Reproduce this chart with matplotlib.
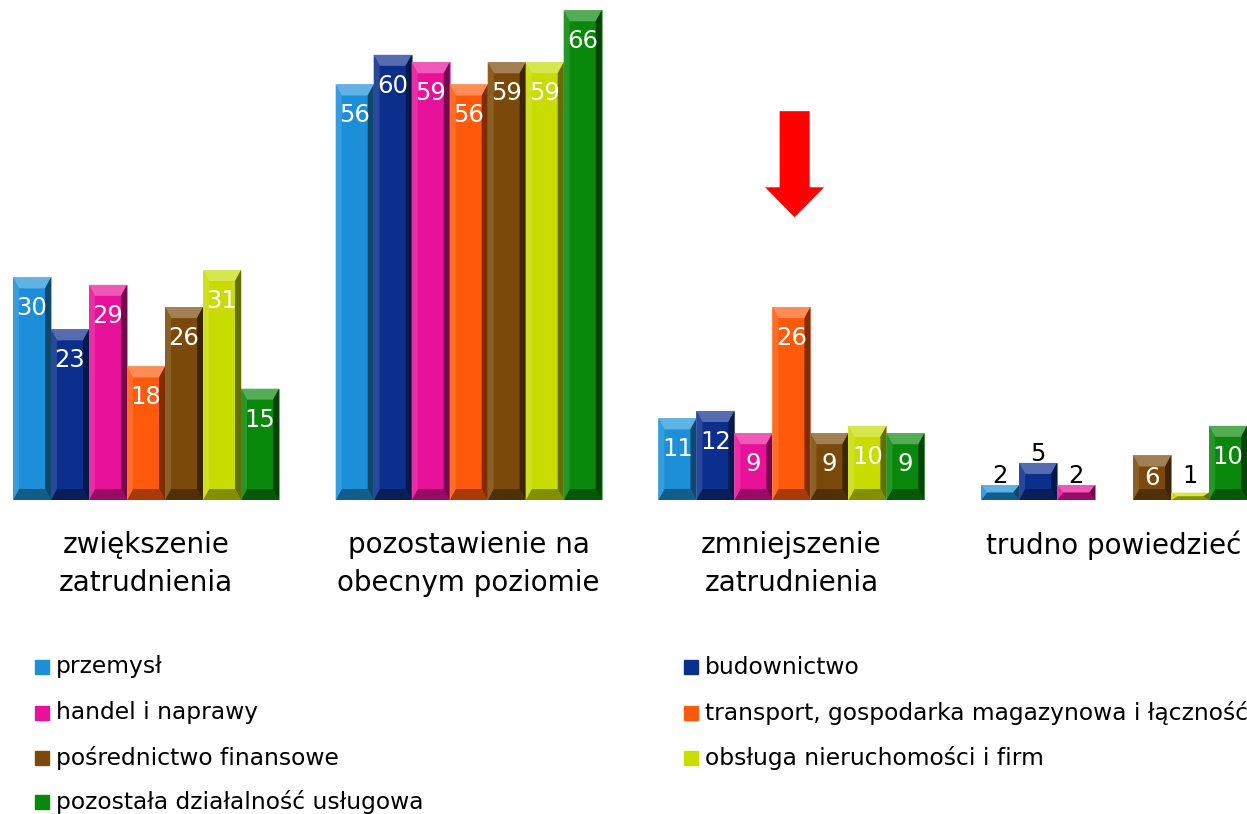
import numpy as np
import matplotlib.pyplot as plt
from matplotlib.patches import Polygon, Rectangle
from matplotlib.colors import to_rgb

# dane z wykresu
grupy = ['zwiększenie\nzatrudnienia', 'pozostawienie na\nobecnym poziomie',
         'zmniejszenie\nzatrudnienia', 'trudno powiedzieć']
branze = ['przemysł', 'budownictwo', 'handel i naprawy',
          'transport, gospodarka magazynowa i łączność',
          'pośrednictwo finansowe', 'obsługa nieruchomości i firm',
          'pozostała działalność usługowa']
przemysl = [30, 56, 11, 2]
budownictwo = [23, 60, 12, 5]
handel = [29, 59, 9, 2]
transport = [18, 56, 26, 0]
finanse = [26, 59, 9, 6]
obsluga = [31, 59, 10, 1]
pozostala = [15, 66, 9, 10]
serie = [przemysl, budownictwo, handel, transport, finanse, obsluga, pozostala]
kolory = ['#1C8FD8', '#0C2F8E', '#E8129A', '#FF5A0C', '#7B4A0A', '#C8DC02', '#0A880C']

W, H = 1247, 814
fig = plt.figure(figsize=(W / 100, H / 100), dpi=100)
base_px = 500  # linia bazowa od gory
ax = fig.add_axes([0, (H - base_px) / H, 1, base_px / H])
ax.set_xlim(-146 / 322.7, (W - 146) / 322.7)
ax.set_ylim(0, base_px / 7.42)
ax.axis('off')

px_x = (ax.get_xlim()[1] - ax.get_xlim()[0]) / W
px_y = (ax.get_ylim()[1] - ax.get_ylim()[0]) / base_px
bw = 38 * px_x
x = np.arange(len(grupy))


def mix(c, t, w):
    c = np.array(to_rgb(c)); t = np.array(to_rgb(t))
    return tuple(c * (1 - w) + t * w)


def bevel(x0, h, c):
    x1 = x0 + bw
    bx = min(6 * px_x, bw / 2)
    by = min(11 * px_y, h / 2)
    ax.add_patch(Polygon([(x0, h), (x1, h), (x1 - bx, h - by), (x0 + bx, h - by)],
                         color=mix(c, 'white', 0.3), lw=0))
    ax.add_patch(Polygon([(x0, 0), (x1, 0), (x1 - bx, by), (x0 + bx, by)],
                         color=mix(c, 'black', 0.35), lw=0))
    ax.add_patch(Polygon([(x0, 0), (x0, h), (x0 + bx, h - by), (x0 + bx, by)],
                         color=mix(c, 'white', 0.12), lw=0))
    ax.add_patch(Polygon([(x1, 0), (x1, h), (x1 - bx, h - by), (x1 - bx, by)],
                         color=mix(c, 'black', 0.5), lw=0))


for i, (vals, c) in enumerate(zip(serie, kolory)):
    xs = x - 3.5 * bw + i * bw
    ax.bar(xs, vals, width=bw, align='edge', color=c, edgecolor=mix(c, 'white', 0.4), lw=0.6)
    for xb, v in zip(xs, vals):
        if v == 0:
            continue
        bevel(xb, v, c)
        if v > 5:
            yt = max(v - 31 * px_y, v / 2)
            ax.text(xb + bw / 2, yt, str(v), ha='center', va='center', color='white', fontsize=17.5)
        else:
            ax.text(xb + bw / 2, max(v, 2) - 0.4, str(v), ha='center', va='bottom', color='black', fontsize=17.5)

# strzalka
ax.arrow(2.01, 52.4, 0, -14.3, width=30 * px_x, head_width=59 * px_x,
         head_length=30 * px_y, length_includes_head=True, color='#FF0000', lw=0)

# etykiety grup
for i, g in enumerate(grupy):
    fx = (146 + 322.7 * i) / W
    fig.text(fx, 1 - 531 / H, g, ha='center', va='top', fontsize=20, linespacing=1.45)

# legenda
rows = [667, 713, 758, 802]
for k, (name, c) in enumerate(zip(branze, kolory)):
    col, row = k % 2, k // 2
    mx = 35 if col == 0 else 684
    ry = rows[row]
    fig.patches.append(Rectangle((mx / W, 1 - (ry + 7) / H), 14 / W, 14 / H,
                                 transform=fig.transFigure, color=c, figure=fig))
    fig.text((mx + 21) / W, 1 - ry / H, name, ha='left', va='center', fontsize=16.8)

fig.savefig('out.png', dpi=100)
